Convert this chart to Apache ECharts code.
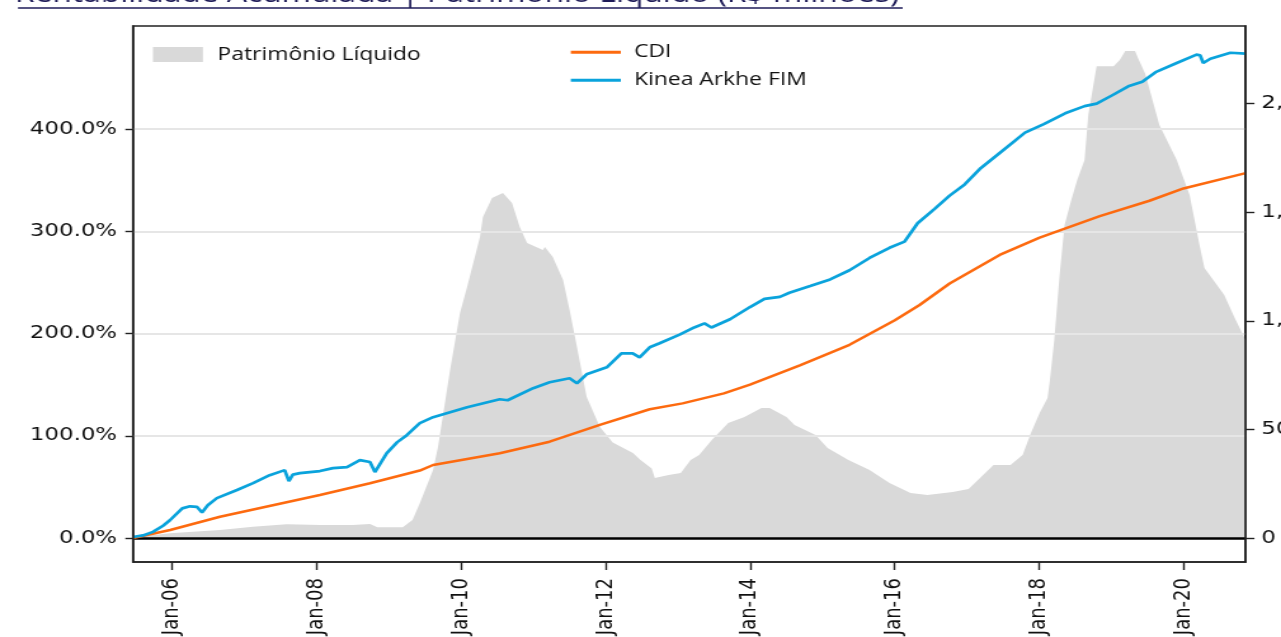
<!DOCTYPE html>
<html>
<head>
<meta charset="utf-8">
<title>Rentabilidade Acumulada | Patrimônio Líquido</title>
<script src="https://cdn.jsdelivr.net/npm/echarts@6.0.0/dist/echarts.min.js"></script>
<style>
  html, body { margin: 0; padding: 0; background: #fff; overflow: hidden; }
  #grafico { height: 637px; transform-origin: 0 0; }
</style>
</head>
<body>
<div id="grafico"></div>
<script>
// figura original foi esticada na horizontal
var escala = 1.27;
var largura = Math.round(1281 / escala);

function px(x) { return x / escala; }

// periodo do eixo x
var inicio = '2005-06-18';
var fim = '2020-11-10';
var anosEixo = [2006, 2008, 2010, 2012, 2014, 2016, 2018, 2020];

// rotulos dos eixos
var rotulosEsq = [0, 100, 200, 300, 400];
var rotulosDir = [0, 500, 1000, 1500, 2000];

// Patrimonio Liquido (R$ milhoes)
var datasPL = ['2005-06-18','2005-12-23','2006-09-01','2007-02-15','2007-08-04','2008-01-19','2008-07-04','2008-09-28',
  '2008-11-04','2009-03-13','2009-05-01','2009-06-07','2009-08-13','2009-09-07','2009-11-07','2009-12-27','2010-02-01',
  '2010-04-07','2010-04-22','2010-06-07','2010-08-01','2010-09-16','2010-10-25','2010-12-01','2011-02-19','2011-03-01',
  '2011-04-10','2011-06-01','2011-07-04','2011-08-10','2011-09-28','2011-12-04','2012-02-07','2012-05-19','2012-06-25',
  '2012-08-22','2012-09-07','2012-11-16','2013-01-16','2013-03-07','2013-04-19','2013-06-22','2013-09-13','2013-12-04',
  '2014-02-28','2014-04-10','2014-07-04','2014-08-14','2014-11-28','2015-01-28','2015-05-13','2015-08-28','2015-12-07',
  '2016-03-22','2016-06-16','2016-10-22','2017-01-10','2017-04-04','2017-05-16','2017-08-10','2017-10-10','2017-11-21',
  '2018-01-04','2018-02-13','2018-02-25','2018-03-19','2018-04-15','2018-05-10','2018-06-13','2018-07-13','2018-08-19',
  '2018-09-07','2018-10-19','2019-01-13','2019-02-13','2019-03-13','2019-05-01','2019-05-16','2019-06-22','2019-09-01',
  '2019-11-28','2020-02-01','2020-03-22','2020-04-16','2020-06-07','2020-07-25','2020-09-16','2020-11-10'];
var valoresPL = [3, 22, 37, 52, 63, 60, 60, 64,
  49, 49, 83, 160, 313, 419, 773, 1036, 1155,
  1386, 1478, 1565, 1588, 1542, 1432, 1358, 1326, 1340,
  1294, 1188, 1050, 880, 650, 511, 440, 391, 360,
  320, 276, 290, 299, 359, 382, 451, 529, 557,
  599, 599, 557, 520, 474, 414, 359, 313, 253,
  207, 198, 212, 226, 299, 336, 336, 382, 483,
  575, 645, 727, 912, 1211, 1441, 1556, 1648, 1740,
  1948, 2172, 2172, 2200, 2242, 2242, 2210, 2136, 1901,
  1740, 1579, 1349, 1243, 1179, 1119, 1013, 912];

// CDI acumulado (%)
var datasCDI = ['2005-06-18','2005-12-23','2006-09-01','2008-01-19','2008-09-28','2009-06-07','2009-08-13','2010-07-16',
  '2011-03-25','2011-12-04','2012-08-12','2013-01-25','2013-08-22','2014-01-01','2014-09-10','2015-05-19','2016-01-03',
  '2016-05-07','2016-10-06','2017-06-16','2018-01-04','2018-11-04','2019-07-13','2020-01-01','2020-11-10'];
var valoresCDI = [0, 7.8, 20.8, 42, 53.5, 66, 71.4, 82.9,
  94.2, 110.6, 126, 131.7, 141.5, 150, 169, 189, 213,
  228, 249, 277, 294, 315, 330, 342, 357];

// Kinea Arkhe FIM acumulado (%)
var datasKinea = ['2005-06-18','2005-08-08','2005-09-27','2005-11-17','2005-12-23','2006-02-22','2006-04-02','2006-05-07',
  '2006-06-02','2006-07-01','2006-08-16','2006-11-26','2007-02-15','2007-05-10','2007-07-25','2007-08-15','2007-09-04',
  '2007-10-10','2008-01-19','2008-03-25','2008-06-04','2008-08-08','2008-09-28','2008-10-23','2008-12-22','2009-02-13',
  '2009-04-02','2009-06-07','2009-08-13','2010-02-01','2010-07-16','2010-08-25','2011-01-01','2011-03-25','2011-07-04',
  '2011-08-10','2011-09-28','2012-01-08','2012-03-22','2012-05-18','2012-06-22','2012-08-12','2012-10-01','2013-01-10',
  '2013-03-25','2013-05-16','2013-06-20','2013-09-22','2014-01-01','2014-03-15','2014-06-01','2014-07-19','2014-11-01',
  '2015-02-10','2015-05-19','2015-08-28','2015-12-07','2016-02-21','2016-04-27','2016-07-22','2016-10-06','2016-12-21',
  '2017-03-07','2017-06-16','2017-10-22','2018-01-25','2018-05-13','2018-08-19','2018-10-19','2019-01-04','2019-03-28',
  '2019-06-07','2019-08-13','2019-11-28','2020-03-07','2020-03-25','2020-04-10','2020-05-16','2020-08-25','2020-11-10'];
var valoresKinea = [1, 2.5, 6, 12, 17.6, 29, 31, 30.5,
  25, 32, 39, 47, 53.7, 61.5, 66.4, 55.7, 62,
  63.5, 65.5, 68.4, 69.4, 76.2, 74.3, 64.5, 83, 93.8,
  100.6, 112.4, 118.2, 128, 135.8, 134.8, 146.6, 152.4, 156.3,
  151.4, 160.2, 167, 180.7, 180.7, 176.8, 186.6, 190.6, 199,
  206, 210, 206, 214, 226, 234, 236, 240, 246.5,
  253, 262, 274, 284, 290, 308, 322, 335, 346,
  361, 376.7, 396.7, 405, 415.6, 422.6, 425, 433, 442,
  446.5, 455.8, 464.8, 473, 472.4, 464.8, 469, 474.8, 474];

function pares(datas, valores) {
  var lista = [];
  for (var i = 0; i < datas.length; i++) {
    lista.push([Date.parse(datas[i]), valores[i]]);
  }
  return lista;
}

var ticksX = anosEixo.map(function (a) { return Date.UTC(a, 0, 1); });

var corEixo = '#222';
var fonteEixo = 'DejaVu Sans';
var fonteLegenda = '"Open Sans", "Noto Sans", sans-serif';

var el = document.getElementById('grafico');
el.style.width = largura + 'px';
el.style.transform = 'scaleX(' + (1281 / largura) + ')';

var grafico = echarts.init(el, null, { renderer: 'canvas' });

var linhasGrade = rotulosEsq.slice(1).map(function (v) {
  return { yAxis: v, lineStyle: { color: '#e6e6e6', width: 2, type: 'solid' } };
});
linhasGrade.push({ yAxis: 0, lineStyle: { color: '#000', width: 2.6, type: 'solid' } });

var option = {
  animation: false,
  backgroundColor: '#fff',
  graphic: [
    {
      type: 'text',
      x: px(15),
      y: -5.3,
      style: {
        text: 'Rentabilidade Acumulada | Patrimônio Líquido (R$ milhões)',
        font: '25px "Open Sans"',
        fill: '#1e1b58',
        verticalAlign: 'middle'
      }
    },
    {
      type: 'line',
      shape: { x1: px(18), y1: 8, x2: px(903), y2: 8 },
      style: { stroke: '#1e1b58', lineWidth: 1.4 }
    }
  ],
  grid: {
    left: px(133),
    right: largura - px(1246),
    top: 26,
    bottom: 75,
    show: true,
    borderColor: corEixo,
    borderWidth: 1.6,
    outerBoundsMode: 'none'
  },
  legend: [
    {
      data: ['Patrimônio Líquido'],
      left: px(153),
      top: 45.5,
      padding: 0,
      icon: 'rect',
      itemWidth: px(50),
      itemHeight: 15,
      textStyle: { fontFamily: fonteLegenda, fontSize: 18, color: '#111', padding: [0, 0, 0, 6.5] }
    },
    {
      data: ['CDI', 'Kinea Arkhe FIM'],
      orient: 'vertical',
      left: px(571),
      top: 43.3,
      padding: 0,
      icon: 'rect',
      itemWidth: px(50),
      itemHeight: 3,
      itemGap: 10,
      textStyle: { fontFamily: fonteLegenda, fontSize: 18, lineHeight: 18, color: '#111', padding: [0, 0, 0, 5.5] }
    }
  ],
  xAxis: {
    type: 'value',
    min: Date.parse(inicio),
    max: Date.parse(fim),
    z: 10,
    splitLine: { show: false },
    axisLine: { show: true, onZero: false, lineStyle: { color: corEixo, width: 1.6 } },
    axisTick: { show: true, customValues: ticksX, length: 8, lineStyle: { color: corEixo, width: 1.4 } },
    axisLabel: {
      customValues: ticksX,
      rotate: 90,
      margin: 16,
      fontSize: 18,
      fontFamily: fonteEixo,
      color: '#111',
      formatter: function (v) {
        var a = new Date(v).getUTCFullYear() % 100;
        return 'Jan-' + (a < 10 ? '0' + a : a);
      }
    }
  },
  yAxis: [
    {
      type: 'value',
      position: 'left',
      min: -23.5,
      max: 501,
      z: 10,
      splitLine: { show: false },
      axisLine: { show: true, onZero: false, lineStyle: { color: corEixo, width: 1.6 } },
      axisTick: { show: true, customValues: rotulosEsq, length: 6, lineStyle: { color: corEixo, width: 1.4 } },
      axisLabel: {
        customValues: rotulosEsq,
        margin: 12.5,
        fontSize: 18,
        fontFamily: fonteEixo,
        color: '#111',
        formatter: function (v) { return v.toFixed(1) + '%'; }
      }
    },
    {
      type: 'value',
      position: 'right',
      min: -110.5,
      max: 2357,
      z: 10,
      splitLine: { show: false },
      axisLine: { show: true, onZero: false, lineStyle: { color: corEixo, width: 1.6 } },
      axisTick: { show: true, customValues: rotulosDir, length: 7, lineStyle: { color: corEixo, width: 1.4 } },
      axisLabel: {
        customValues: rotulosDir,
        margin: 12.5,
        fontSize: 18,
        fontFamily: fonteEixo,
        color: '#111',
        formatter: function (v) { return v.toLocaleString('en-US'); }
      }
    }
  ],
  series: [
    {
      name: 'Patrimônio Líquido',
      type: 'line',
      yAxisIndex: 1,
      z: 1,
      symbol: 'none',
      silent: true,
      itemStyle: { color: '#d9d9d9' },
      lineStyle: { width: 0, color: '#d9d9d9' },
      areaStyle: { color: '#d9d9d9', opacity: 1 },
      data: pares(datasPL, valoresPL)
    },
    {
      name: 'CDI',
      type: 'line',
      yAxisIndex: 0,
      z: 3,
      symbol: 'none',
      itemStyle: { color: '#fd6a0f' },
      lineStyle: { width: 2.5, color: '#fd6a0f' },
      data: pares(datasCDI, valoresCDI),
      markLine: {
        silent: true,
        z: 2,
        symbol: 'none',
        label: { show: false },
        animation: false,
        data: linhasGrade
      }
    },
    {
      name: 'Kinea Arkhe FIM',
      type: 'line',
      yAxisIndex: 0,
      z: 4,
      symbol: 'none',
      itemStyle: { color: '#0aa3dc' },
      lineStyle: { width: 2.7, color: '#0aa3dc' },
      data: pares(datasKinea, valoresKinea)
    }
  ]
};

grafico.setOption(option);
</script>
</body>
</html>
